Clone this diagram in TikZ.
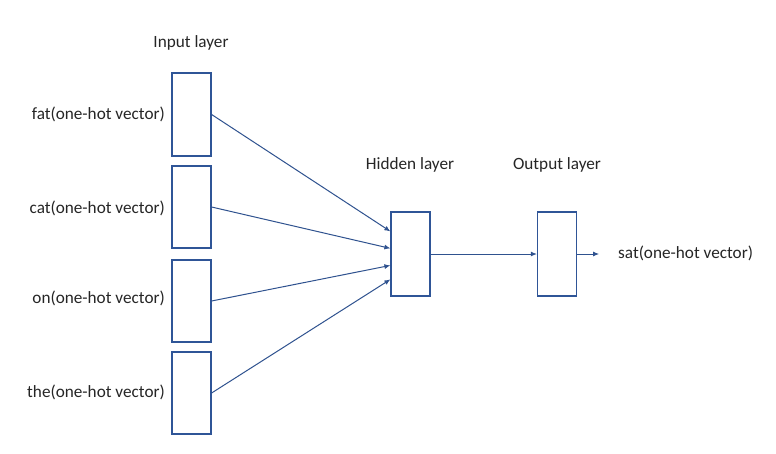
\documentclass[tikz,border=0pt]{standalone}
\usepackage{fontspec}
\setmainfont{Carlito}
\usetikzlibrary{arrows.meta,calc}
\definecolor{boxblue}{HTML}{2F5597}
\definecolor{linkblue}{HTML}{2F528F}
\definecolor{txt}{HTML}{262626}
\begin{document}
\begin{tikzpicture}[x=1pt,y=-1pt,
  layerbox/.style={draw=boxblue,line width=1.2pt,fill=white,minimum width=39pt,inner sep=0pt},
  lbl/.style={text=txt,font=\fontsize{17.2}{19}\selectfont,inner sep=0pt},
  link/.style={draw=linkblue,line width=1pt,-{Latex[length=6pt,width=5pt]}}]
\useasboundingbox[fill=white] (0,0) rectangle (776,453);
% boxes
\node[layerbox,minimum height=83pt] (i1) at (191.5,114.5) {};
\node[layerbox,minimum height=82pt] (i2) at (191.5,207) {};
\node[layerbox,minimum height=82pt] (i3) at (191.5,301) {};
\node[layerbox,minimum height=82pt] (i4) at (191.5,393) {};
\node[layerbox,minimum height=84pt] (h) at (410.5,254) {};
\node[layerbox,minimum height=84pt] (o) at (557,254) {};
% labels
\node[lbl] (tin) at (191,43) {Input layer};
\node[lbl] (thid) at (410,165) {Hidden layer};
\node[lbl] (tout) at (557,165) {Output layer};
\node[lbl,anchor=east] (l1) at (165,114) {fat(one-hot vector)};
\node[lbl,anchor=east] (l2) at (165,208) {cat(one-hot vector)};
\node[lbl,anchor=east] (l3) at (165,298) {on(one-hot vector)};
\node[lbl,anchor=east] (l4) at (165,392) {the(one-hot vector)};
\node[lbl,anchor=west] (ls) at (618,253) {sat(one-hot vector)};
% connectors
\coordinate (h1) at ($(h.north west)+(0,20)$);
\coordinate (h2) at ($(h.north west)+(0,37)$);
\coordinate (h3) at ($(h.north west)+(0,54)$);
\coordinate (h4) at ($(h.north west)+(0,68)$);
\draw[link] (i1.east) -- (h1);
\draw[link] (i2.east) -- (h2);
\draw[link] (i3.east) -- (h3);
\draw[link] (i4.east) -- (h4);
\draw[link] (h.east) -- (o.west);
\coordinate (oend) at ($(o.east)+(22,0)$);
\draw[link] (o.east) -- (oend);
\end{tikzpicture}
\end{document}
